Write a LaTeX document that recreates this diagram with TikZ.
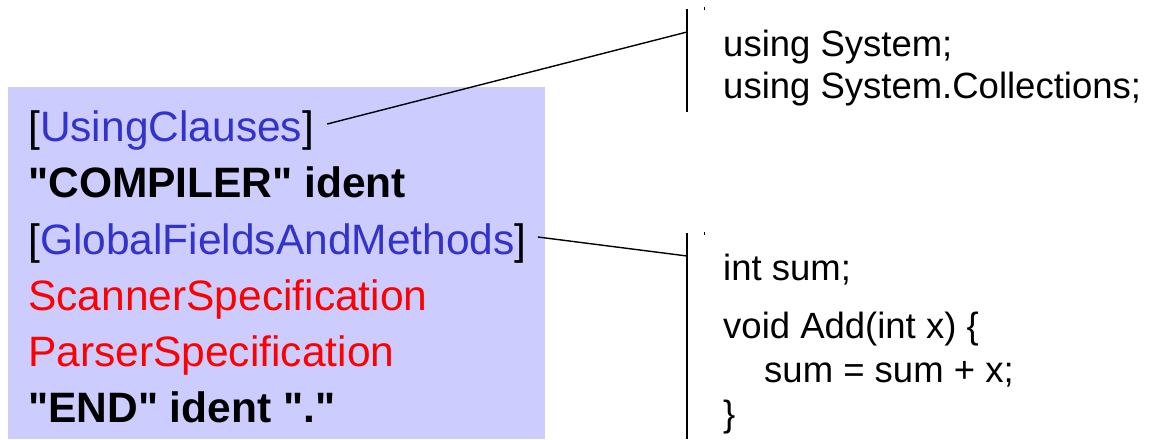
\documentclass[tikz,border=0pt]{standalone}
\usepackage{fontspec}
\setmainfont{Liberation Sans}[Ligatures=TeXOff]
\definecolor{boxfill}{HTML}{CCCCFF}
\definecolor{ntblue}{HTML}{3333CC}
\definecolor{tred}{HTML}{FF0000}
\tikzset{
  gram/.style={anchor=base west, inner sep=0pt, font=\fontsize{42.5}{50}\selectfont},
  code/.style={anchor=base west, inner sep=0pt, font=\fontsize{36.5}{44}\selectfont},
  bar/.style={line width=1.6pt},
  link/.style={line width=1.4pt},
  tick/.style={line width=0.8pt}
}
\begin{document}
\begin{tikzpicture}[x=1pt, y=-1pt]
  \useasboundingbox (0,0) rectangle (1153,439);
  % grammar box
  \fill[boxfill] (8,87) rectangle (545,439);
  \node[gram] (uc)   at (28,141) {[\textcolor{ntblue}{UsingClauses}]};
  \node[gram] (comp) at (28,197) {\bfseries "COMPILER" ident};
  \node[gram] (gfm)  at (28,254) {[\textcolor{ntblue}{GlobalFieldsAndMethods}]};
  \node[gram] (scan) at (28,310) {\textcolor{tred}{ScannerSpecification}};
  \node[gram] (pars) at (28,366) {\textcolor{tred}{ParserSpecification}};
  \node[gram] (endl) at (28,422) {\bfseries "END" ident "."};
  % using clauses example
  \coordinate (b1top) at (687,9);
  \coordinate (b1bot) at (687,112);
  \coordinate (b1hit) at (687,32);
  \draw[bar] (b1top) -- (b1bot);
  \draw[tick] (704,7) -- (704,10);
  \node[code] (u1) at (723,56) {using System;};
  \node[code] (u2) at (723,98) {using System.Collections;};
  % global fields and methods example
  \coordinate (b2top) at (687,233);
  \coordinate (b2bot) at (687,439);
  \coordinate (b2hit) at (687,256);
  \draw[bar] (b2top) -- (b2bot);
  \draw[tick] (704,232) -- (704,235);
  \node[code] (g1) at (723,280) {int sum;};
  \node[code] (g2) at (723,338) {void Add(int x) \{};
  \node[code] (g3) at (764,382) {sum = sum + x;};
  \node[code] (g4) at (723,426) {\}};
  % connectors
  \draw[link] ([xshift=13pt,yshift=17pt]uc.base east) -- (b1hit);
  \draw[link] ([xshift=11pt,yshift=17pt]gfm.base east) -- (b2hit);
\end{tikzpicture}
\end{document}
